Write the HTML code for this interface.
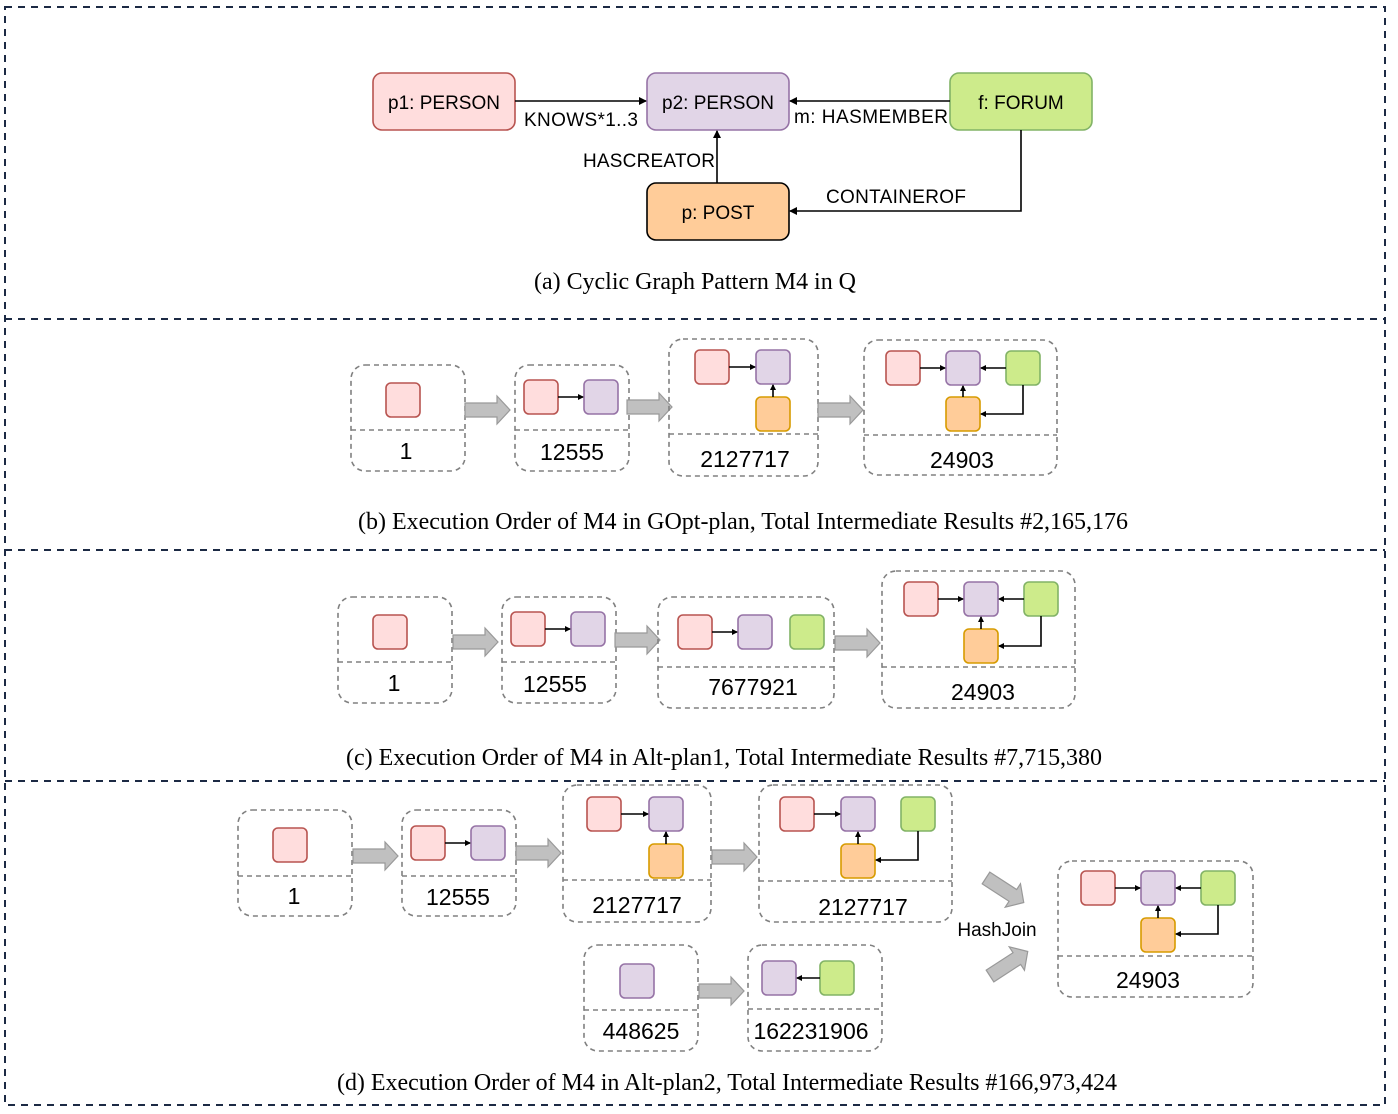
<!DOCTYPE html>
<html><head><meta charset="utf-8"><style>
html,body{margin:0;padding:0;background:#fff;}
svg{display:block;}
.n{font-family:"Liberation Sans",sans-serif;font-size:19px;fill:#000;}
.c{font-family:"Liberation Serif",serif;font-size:24px;fill:#000;}
.num{font-family:"Liberation Sans",sans-serif;font-size:23px;fill:#000;}
.box{fill:none;stroke:#808080;stroke-width:1.6;stroke-dasharray:5,4;}
.pk{fill:#ffdddd;stroke:#b85450;stroke-width:1.6;}
.pu{fill:#e1d5e7;stroke:#9673a6;stroke-width:1.6;}
.gr{fill:#cdeb8b;stroke:#82b366;stroke-width:1.6;}
.or{fill:#ffcc99;stroke:#d79b00;stroke-width:1.6;}
.l{stroke:#000;stroke-width:1.6;fill:none;}
.ba{fill:#c0c0c0;stroke:#999;stroke-width:1.2;}
</style></head><body>
<svg width="1398" height="1114" viewBox="0 0 1398 1114" xmlns="http://www.w3.org/2000/svg">
<defs>
<marker id="a" markerWidth="8" markerHeight="8" refX="7" refY="4" orient="auto" markerUnits="userSpaceOnUse"><path d="M0,0 L8,4 L0,8 z" fill="#000"/></marker>
<marker id="s" markerWidth="6" markerHeight="6" refX="5" refY="3" orient="auto" markerUnits="userSpaceOnUse"><path d="M0,0 L6,3 L0,6 z" fill="#000"/></marker>
<path id="blk" d="M0,-7 L32,-7 L32,-14 L45,0 L32,14 L32,7 L0,7 Z"/>
</defs>
<g fill="none" stroke="#1c2a44" stroke-width="2" stroke-dasharray="7,6">
<rect x="5" y="7" width="1380" height="1098"/>
<line x1="5" y1="319" x2="1385" y2="319"/>
<line x1="5" y1="550" x2="1385" y2="550"/>
<line x1="5" y1="781" x2="1385" y2="781"/>
</g>

<!-- (a) -->
<rect class="pk" x="373" y="73" width="142" height="57" rx="9"/>
<rect class="pu" x="647" y="73" width="142" height="57" rx="9"/>
<rect class="gr" x="950" y="73" width="142" height="57" rx="9"/>
<rect class="or" x="647" y="183" width="142" height="57" rx="9" style="stroke:#000"/>
<text class="n" x="444" y="109" text-anchor="middle">p1: PERSON</text>
<text class="n" x="718" y="109" text-anchor="middle">p2: PERSON</text>
<text class="n" x="1021" y="109" text-anchor="middle">f: FORUM</text>
<text class="n" x="718" y="219" text-anchor="middle">p: POST</text>
<line class="l" x1="515" y1="101" x2="646" y2="101" marker-end="url(#a)"/>
<line class="l" x1="950" y1="101" x2="790" y2="101" marker-end="url(#a)"/>
<line class="l" x1="717" y1="183" x2="717" y2="131" marker-end="url(#a)"/>
<polyline class="l" points="1021,130 1021,211 790,211" marker-end="url(#a)"/>
<text class="n" x="524" y="126" textLength="114">KNOWS*1..3</text>
<text class="n" x="794" y="123" textLength="154">m: HASMEMBER</text>
<text class="n" x="583" y="167" textLength="132">HASCREATOR</text>
<text class="n" x="826" y="203" textLength="140">CONTAINEROF</text>
<text class="c" x="534" y="289" textLength="322">(a) Cyclic Graph Pattern M4 in Q</text>

<!-- (b) -->
<rect class="box" x="351" y="365" width="114" height="106" rx="14"/><line class="box" x1="351" y1="430" x2="465" y2="430"/>
<rect class="pk" x="386" y="383" width="34" height="34" rx="5"/>
<text class="num" x="406" y="459" text-anchor="middle">1</text>
<use href="#blk" class="ba" transform="translate(465,410)"/>
<rect class="box" x="515" y="365" width="114" height="106" rx="14"/><line class="box" x1="515" y1="430" x2="629" y2="430"/>
<rect class="pk" x="524" y="380" width="34" height="34" rx="5"/><rect class="pu" x="584" y="380" width="34" height="34" rx="5"/>
<line class="l" x1="558" y1="397" x2="583" y2="397" marker-end="url(#s)"/>
<text class="num" x="572" y="460" text-anchor="middle">12555</text>
<use href="#blk" class="ba" transform="translate(627,407)"/>
<rect class="box" x="669" y="339" width="149" height="137" rx="14"/><line class="box" x1="669" y1="434" x2="818" y2="434"/>
<rect class="pk" x="695" y="350" width="34" height="34" rx="5"/><rect class="pu" x="756" y="350" width="34" height="34" rx="5"/><rect class="or" x="756" y="397" width="34" height="34" rx="5"/>
<line class="l" x1="729" y1="367" x2="755" y2="367" marker-end="url(#s)"/>
<line class="l" x1="773" y1="397" x2="773" y2="385" marker-end="url(#s)"/>
<text class="num" x="745" y="467" text-anchor="middle">2127717</text>
<use href="#blk" class="ba" transform="translate(818,410)"/>
<rect class="box" x="864" y="340" width="193" height="135" rx="14"/><line class="box" x1="864" y1="435" x2="1057" y2="435"/>
<rect class="pk" x="886" y="351" width="34" height="34" rx="5"/><rect class="pu" x="946" y="351" width="34" height="34" rx="5"/><rect class="gr" x="1006" y="351" width="34" height="34" rx="5"/><rect class="or" x="946" y="397" width="34" height="34" rx="5"/>
<line class="l" x1="920" y1="368" x2="945" y2="368" marker-end="url(#s)"/>
<line class="l" x1="1006" y1="368" x2="981" y2="368" marker-end="url(#s)"/>
<line class="l" x1="963" y1="397" x2="963" y2="386" marker-end="url(#s)"/>
<polyline class="l" points="1023,385 1023,414 981,414" marker-end="url(#s)"/>
<text class="num" x="962" y="468" text-anchor="middle">24903</text>
<text class="c" x="358" y="529" textLength="770">(b) Execution Order of M4 in GOpt-plan, Total Intermediate Results #2,165,176</text>

<!-- (c) -->
<rect class="box" x="338" y="597" width="114" height="106" rx="14"/><line class="box" x1="338" y1="662" x2="452" y2="662"/>
<rect class="pk" x="373" y="615" width="34" height="34" rx="5"/>
<text class="num" x="394" y="691" text-anchor="middle">1</text>
<use href="#blk" class="ba" transform="translate(453,642)"/>
<rect class="box" x="502" y="597" width="114" height="106" rx="14"/><line class="box" x1="502" y1="662" x2="616" y2="662"/>
<rect class="pk" x="511" y="612" width="34" height="34" rx="5"/><rect class="pu" x="571" y="612" width="34" height="34" rx="5"/>
<line class="l" x1="545" y1="629" x2="570" y2="629" marker-end="url(#s)"/>
<text class="num" x="555" y="692" text-anchor="middle">12555</text>
<use href="#blk" class="ba" transform="translate(615,640)"/>
<rect class="box" x="658" y="597" width="176" height="111" rx="14"/><line class="box" x1="658" y1="667" x2="834" y2="667"/>
<rect class="pk" x="678" y="615" width="34" height="34" rx="5"/><rect class="pu" x="738" y="615" width="34" height="34" rx="5"/><rect class="gr" x="790" y="615" width="34" height="34" rx="5"/>
<line class="l" x1="712" y1="632" x2="737" y2="632" marker-end="url(#s)"/>
<text class="num" x="753" y="695" text-anchor="middle">7677921</text>
<use href="#blk" class="ba" transform="translate(835,643)"/>
<rect class="box" x="882" y="571" width="193" height="137" rx="14"/><line class="box" x1="882" y1="667" x2="1075" y2="667"/>
<rect class="pk" x="904" y="582" width="34" height="34" rx="5"/><rect class="pu" x="964" y="582" width="34" height="34" rx="5"/><rect class="gr" x="1024" y="582" width="34" height="34" rx="5"/><rect class="or" x="964" y="629" width="34" height="34" rx="5"/>
<line class="l" x1="938" y1="599" x2="963" y2="599" marker-end="url(#s)"/>
<line class="l" x1="1024" y1="599" x2="999" y2="599" marker-end="url(#s)"/>
<line class="l" x1="981" y1="629" x2="981" y2="617" marker-end="url(#s)"/>
<polyline class="l" points="1041,616 1041,646 999,646" marker-end="url(#s)"/>
<text class="num" x="983" y="700" text-anchor="middle">24903</text>
<text class="c" x="346" y="765" textLength="756">(c) Execution Order of M4 in Alt-plan1, Total Intermediate Results #7,715,380</text>

<!-- (d) -->
<rect class="box" x="238" y="810" width="114" height="106" rx="14"/><line class="box" x1="238" y1="876" x2="352" y2="876"/>
<rect class="pk" x="273" y="828" width="34" height="34" rx="5"/>
<text class="num" x="294" y="904" text-anchor="middle">1</text>
<use href="#blk" class="ba" transform="translate(353,856)"/>
<rect class="box" x="402" y="810" width="114" height="106" rx="14"/><line class="box" x1="402" y1="876" x2="516" y2="876"/>
<rect class="pk" x="411" y="826" width="34" height="34" rx="5"/><rect class="pu" x="471" y="826" width="34" height="34" rx="5"/>
<line class="l" x1="445" y1="843" x2="470" y2="843" marker-end="url(#s)"/>
<text class="num" x="458" y="905" text-anchor="middle">12555</text>
<use href="#blk" class="ba" transform="translate(516,853)"/>
<rect class="box" x="563" y="785" width="148" height="137" rx="14"/><line class="box" x1="563" y1="880" x2="711" y2="880"/>
<rect class="pk" x="587" y="797" width="34" height="34" rx="5"/><rect class="pu" x="649" y="797" width="34" height="34" rx="5"/><rect class="or" x="649" y="844" width="34" height="34" rx="5"/>
<line class="l" x1="621" y1="814" x2="648" y2="814" marker-end="url(#s)"/>
<line class="l" x1="666" y1="844" x2="666" y2="832" marker-end="url(#s)"/>
<text class="num" x="637" y="913" text-anchor="middle">2127717</text>
<use href="#blk" class="ba" transform="translate(712,857)"/>
<rect class="box" x="759" y="785" width="193" height="137" rx="14"/><line class="box" x1="759" y1="881" x2="952" y2="881"/>
<rect class="pk" x="780" y="797" width="34" height="34" rx="5"/><rect class="pu" x="841" y="797" width="34" height="34" rx="5"/><rect class="gr" x="901" y="797" width="34" height="34" rx="5"/><rect class="or" x="841" y="844" width="34" height="34" rx="5"/>
<line class="l" x1="814" y1="814" x2="840" y2="814" marker-end="url(#s)"/>
<line class="l" x1="858" y1="844" x2="858" y2="832" marker-end="url(#s)"/>
<polyline class="l" points="918,831 918,860 876,860" marker-end="url(#s)"/>
<text class="num" x="863" y="915" text-anchor="middle">2127717</text>
<use href="#blk" class="ba" transform="translate(986,878) rotate(33)"/>
<use href="#blk" class="ba" transform="translate(990,976) rotate(-33)"/>
<text class="n" x="997" y="936" text-anchor="middle">HashJoin</text>
<rect class="box" x="1058" y="861" width="195" height="136" rx="14"/><line class="box" x1="1058" y1="956" x2="1253" y2="956"/>
<rect class="pk" x="1081" y="871" width="34" height="34" rx="5"/><rect class="pu" x="1141" y="871" width="34" height="34" rx="5"/><rect class="gr" x="1201" y="871" width="34" height="34" rx="5"/><rect class="or" x="1141" y="918" width="34" height="34" rx="5"/>
<line class="l" x1="1115" y1="888" x2="1140" y2="888" marker-end="url(#s)"/>
<line class="l" x1="1201" y1="888" x2="1176" y2="888" marker-end="url(#s)"/>
<line class="l" x1="1158" y1="918" x2="1158" y2="906" marker-end="url(#s)"/>
<polyline class="l" points="1218,905 1218,934 1176,934" marker-end="url(#s)"/>
<text class="num" x="1148" y="988" text-anchor="middle">24903</text>
<rect class="box" x="584" y="945" width="114" height="106" rx="14"/><line class="box" x1="584" y1="1010" x2="698" y2="1010"/>
<rect class="pu" x="620" y="964" width="34" height="34" rx="5"/>
<text class="num" x="641" y="1039" text-anchor="middle">448625</text>
<use href="#blk" class="ba" transform="translate(699,991)"/>
<rect class="box" x="748" y="945" width="134" height="106" rx="14"/><line class="box" x1="748" y1="1009" x2="882" y2="1009"/>
<rect class="pu" x="762" y="961" width="34" height="34" rx="5"/><rect class="gr" x="820" y="961" width="34" height="34" rx="5"/>
<line class="l" x1="820" y1="978" x2="797" y2="978" marker-end="url(#s)"/>
<text class="num" x="811" y="1039" text-anchor="middle">162231906</text>
<text class="c" x="337" y="1090" textLength="780">(d) Execution Order of M4 in Alt-plan2, Total Intermediate Results #166,973,424</text>
</svg>
</body></html>
